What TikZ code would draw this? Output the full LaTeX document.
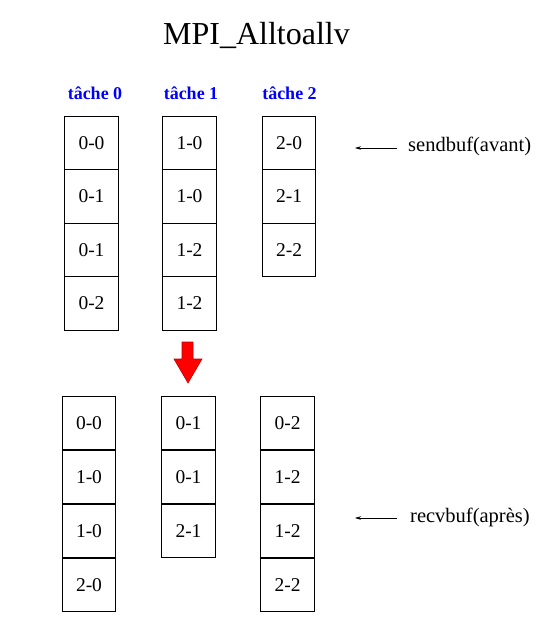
\documentclass[tikz,border=0pt]{standalone}
\usepackage{fontspec}
\setmainfont{Liberation Serif}
\usetikzlibrary{arrows.meta}
\newcommand{\celltext}[1]{\raisebox{-2pt}{#1}}
\begin{document}
\begin{tikzpicture}[x=1pt,y=-1pt,
  cell/.style={draw=black,line width=0.8pt,minimum width=53.5pt,minimum height=53.5pt,
    inner sep=0pt,font=\fontsize{19.5}{20}\selectfont},
  task/.style={text=blue,font=\fontsize{18}{18}\selectfont\bfseries,anchor=base},
  buflbl/.style={font=\fontsize{20.5}{21}\selectfont,anchor=base west,inner sep=0pt},
  ptr/.style={line width=0.6pt,-{Stealth[length=6pt,width=3.5pt]}}]
\useasboundingbox (0,0) rectangle (556,639);

% title
\node[anchor=base,font=\fontsize{32}{32}\selectfont,inner sep=0pt] (title) at (256.5,45) {MPI\_Alltoallv};

% task headers
\node[task] (t0) at (95,100) {tâche 0};
\node[task] (t1) at (191,100) {tâche 1};
\node[task] (t2) at (289.5,100) {tâche 2};

% send buffers
\foreach \lbl [count=\i from 0] in {0-0,0-1,0-1,0-2}
  \node[cell] (sa\i) at (91.5,{142.75+53.5*\i}) {\celltext{\lbl}};
\foreach \lbl [count=\i from 0] in {1-0,1-0,1-2,1-2}
  \node[cell] (sb\i) at (189.5,{142.75+53.5*\i}) {\celltext{\lbl}};
\foreach \lbl [count=\i from 0] in {2-0,2-1,2-2}
  \node[cell] (sc\i) at (289,{142.75+53.5*\i}) {\celltext{\lbl}};

% receive buffers
\foreach \lbl [count=\i from 0] in {0-0,1-0,1-0,2-0}
  \node[cell] (ra\i) at (89,{423+54*\i}) {\celltext{\lbl}};
\foreach \lbl [count=\i from 0] in {0-1,0-1,2-1}
  \node[cell] (rb\i) at (188.5,{423+54*\i}) {\celltext{\lbl}};
\foreach \lbl [count=\i from 0] in {0-2,1-2,1-2,2-2}
  \node[cell] (rc\i) at (287.5,{423+54*\i}) {\celltext{\lbl}};

% big red arrow between the two stages
\filldraw[fill=red,draw=red!75!black,line width=0.6pt]
  (182,342) -- (193,342) -- (193,359) -- (202,359) -- (188,383)
  -- (174,359) -- (182,359) -- cycle;

% buffer labels with pointers
\node[buflbl] (sendlbl) at (408,152) {sendbuf(avant)};
\node[buflbl] (recvlbl) at (410,522) {recvbuf(après)};
\coordinate (sendtail) at (397,148);
\coordinate (sendtip) at (355,148);
\coordinate (recvtail) at (397,518);
\coordinate (recvtip) at (355,518);
\draw[ptr] (sendtail) -- (sendtip);
\draw[ptr] (recvtail) -- (recvtip);
\end{tikzpicture}
\end{document}
